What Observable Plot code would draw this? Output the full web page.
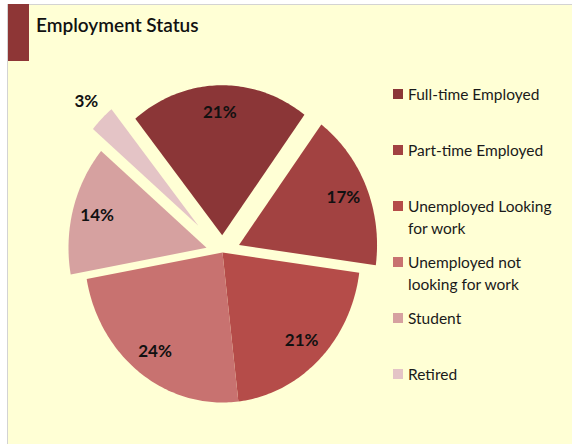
<!DOCTYPE html>
<html>
<head>
<meta charset="utf-8">
<script src="https://cdn.jsdelivr.net/npm/d3@7"></script>
<script src="https://cdn.jsdelivr.net/npm/@observablehq/plot@0.6"></script>
<style>
  body { margin: 0; background: #ffffff; width: 572px; height: 444px; overflow: hidden; position: relative; font-family: Lato, "Open Sans", sans-serif; }
  #panel { position: absolute; left: 7px; top: 4px; width: 565px; height: 440px; background: #FFFFD5; border-left: 1px solid #d3d3d3; border-top: 1px solid #d3d3d3; box-sizing: border-box; }
  #titlebar { position: absolute; left: 8px; top: 4px; width: 21px; height: 57px; background: #8E3636; }
  #title { position: absolute; left: 36px; top: 13px; font-size: 19px; font-weight: 600; color: #111; white-space: nowrap; }
  #chart { position: absolute; left: 0; top: 0; }
  .lg-sw { position: absolute; width: 10px; height: 10px; }
  .lg-tx { position: absolute; font-size: 15.5px; line-height: 22px; color: #1a1a1a; white-space: nowrap; }
</style>
</head>
<body>
<div id="panel"></div>
<div id="titlebar"></div>
<div id="title">Employment Status</div>
<div id="chart"></div>
<div id="legend"></div>
<script>
// ---- data ----
const categories = ["Full-time Employed", "Part-time Employed", "Unemployed Looking for work", "Unemployed not looking for work", "Student", "Retired"];
const percents = [21, 17, 21, 24, 14, 3];
const legendLines = [["Full-time Employed"], ["Part-time Employed"], ["Unemployed Looking", "for work"], ["Unemployed not", "looking for work"], ["Student"], ["Retired"]];

// ---- styles ----
const colors = ["#8B3637", "#A24241", "#B54C49", "#C87270", "#D6A1A0", "#E4C4C6"];
const explode = [0.115, 0.13, 0, 0, 0.12, 0.25];
const labelRadius = [0.82, 0.82, 0.82, 0.82, 0.82, 1.16];
const startAngle = -39; // degrees, clockwise from north

const total = d3.sum(percents);
const rad = d => d * Math.PI / 180;
let acc = 0;
const points = [];
const labels = [];
categories.forEach((name, i) => {
  const a0 = startAngle + acc / total * 360;
  acc += percents[i];
  const a1 = startAngle + acc / total * 360;
  const mid = (a0 + a1) / 2;
  const ex = explode[i] * Math.sin(rad(mid));
  const ey = explode[i] * Math.cos(rad(mid));
  points.push({name, x: ex, y: ey});
  const n = Math.max(4, Math.ceil((a1 - a0) / 1));
  for (let k = 0; k <= n; k++) {
    const a = a0 + (a1 - a0) * k / n;
    points.push({name, x: ex + Math.sin(rad(a)), y: ey + Math.cos(rad(a))});
  }
  points.push({name, x: ex, y: ey});
  labels.push({
    name,
    text: percents[i] + "%",
    x: ex + labelRadius[i] * Math.sin(rad(mid)),
    y: ey + labelRadius[i] * Math.cos(rad(mid))
  });
});

const chart = Plot.plot({
  width: 572,
  height: 444,
  margin: 0,
  x: {domain: [-1, 1], range: [84, 360], axis: null},
  y: {domain: [-1, 1], range: [402, 102], axis: null},
  color: {domain: categories, range: colors},
  style: {background: "transparent", overflow: "visible"},
  marks: [
    Plot.line(points, {x: "x", y: "y", z: "name", fill: "name", stroke: "none", curve: "linear"}),
    Plot.text(labels, {x: "x", y: "y", text: "text", fontSize: 17, fontWeight: 700, fill: "#111", fontFamily: "Lato, sans-serif"})
  ]
});
document.getElementById("chart").appendChild(chart);

// ---- legend ----
const legend = document.getElementById("legend");
categories.forEach((name, i) => {
  const cy = 94 + 56 * i;
  const sw = document.createElement("div");
  sw.className = "lg-sw";
  sw.style.left = "393px";
  sw.style.top = (cy - 5) + "px";
  sw.style.background = colors[i];
  legend.appendChild(sw);
  const tx = document.createElement("div");
  tx.className = "lg-tx";
  tx.style.left = "408px";
  tx.style.top = (cy - 11) + "px";
  tx.innerHTML = legendLines[i].join("<br>");
  legend.appendChild(tx);
});
</script>
</body>
</html>
